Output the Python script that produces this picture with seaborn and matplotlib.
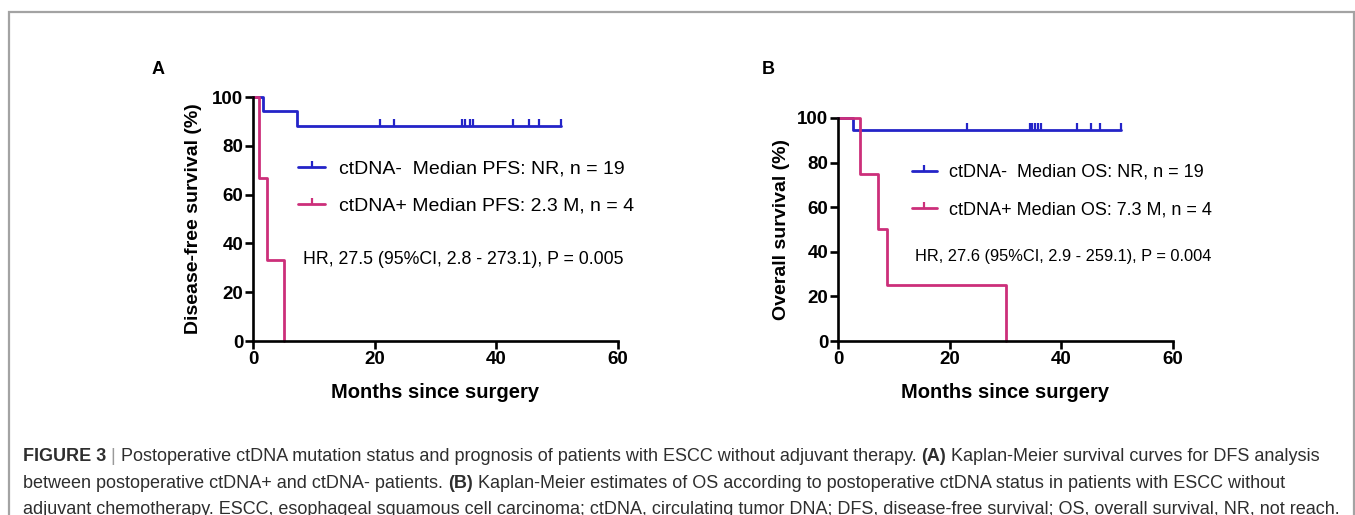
import matplotlib
matplotlib.use("Agg")
import matplotlib.pyplot as plt
import seaborn as sns
import pandas as pd
from matplotlib.lines import Line2D
from matplotlib.patches import Rectangle
from matplotlib.text import Annotation

# ---------------- data ----------------
a_neg_time = [0, 1.64, 7.2, 50.7]
a_neg_surv = [100, 94.1, 88.2, 88.2]
a_neg_cens_time = [20.8, 23.1, 34.3, 34.8, 35.6, 36.2, 42.7, 45.3, 47.0, 50.7]
a_pos_time = [0, 1.0, 2.25, 5.15]
a_pos_surv = [100, 66.7, 33.3, 0]

b_neg_time = [0, 2.7, 50.7]
b_neg_surv = [100, 94.4, 94.4]
b_neg_cens_time = [23.1, 34.4, 34.8, 35.2, 35.8, 36.3, 42.8, 45.4, 47.0, 50.7]
b_pos_time = [0, 4.0, 7.2, 8.7, 30.0]
b_pos_surv = [100, 75, 50, 25, 0]

legend_a = ["ctDNA-  Median PFS: NR, n = 19", "ctDNA+ Median PFS: 2.3 M, n = 4"]
legend_b = ["ctDNA-  Median OS: NR, n = 19", "ctDNA+ Median OS: 7.3 M, n = 4"]
hr_a = "HR, 27.5 (95%CI, 2.8 - 273.1), P = 0.005"
hr_b = "HR, 27.6 (95%CI, 2.9 - 259.1), P = 0.004"
ylabel_a = "Disease-free survival (%)"
ylabel_b = "Overall survival (%)"
xlabel = "Months since surgery"
x_ticks = [0, 20, 40, 60]
y_ticks = [0, 20, 40, 60, 80, 100]

BLUE = "#2424c8"
MAG = "#cc2f7a"

sns.set_theme(style="ticks")
plt.rcParams["font.family"] = ["Liberation Sans", "DejaVu Sans"]
plt.rcParams["text.color"] = "black"
plt.rcParams["axes.labelcolor"] = "black"
plt.rcParams["xtick.color"] = "black"
plt.rcParams["ytick.color"] = "black"

W, H = 1355, 515
fig = plt.figure(figsize=(W / 100, H / 100), dpi=100)


def fx(px):
    return px / W


def fy(py):
    return 1 - py / H


ax_a = fig.add_axes([fx(253), fy(341), fx(618) - fx(253), fy(97) - fy(341)])
ax_b = fig.add_axes([fx(838), fy(341), fx(1173) - fx(838), fy(118) - fy(341)])


def km_panel(ax, neg_t, neg_s, cens_t, pos_t, pos_s, ylab, ylabpad):
    df_neg = pd.DataFrame({"t": neg_t, "s": neg_s})
    df_pos = pd.DataFrame({"t": pos_t, "s": pos_s})
    sns.lineplot(data=df_neg, x="t", y="s", drawstyle="steps-post", color=BLUE,
                 lw=2.0, estimator=None, errorbar=None, ax=ax, clip_on=False, zorder=3)
    sns.lineplot(data=df_pos, x="t", y="s", drawstyle="steps-post", color=MAG,
                 lw=2.0, estimator=None, errorbar=None, ax=ax, clip_on=False, zorder=3)
    lvl = []
    for c in cens_t:
        v = neg_s[0]
        for t, s in zip(neg_t, neg_s):
            if t <= c:
                v = s
        lvl.append(v)
    sns.scatterplot(x=cens_t, y=lvl, marker=2, s=22, color=BLUE, linewidth=1.6,
                    ax=ax, clip_on=False, zorder=4)
    ax.set_xlim(0, 60)
    ax.set_ylim(0, 100)
    ax.set_xticks(x_ticks)
    ax.set_yticks(y_ticks)
    for sp in ["top", "right"]:
        ax.spines[sp].set_visible(False)
    for sp in ["left", "bottom"]:
        ax.spines[sp].set_linewidth(1.9)
        ax.spines[sp].set_color("black")
        ax.spines[sp].set_zorder(5)
    ax.tick_params(axis="both", direction="out", length=5.5, width=1.9, colors="black",
                   labelsize=13.5, pad=1.5)
    for lab in ax.get_xticklabels() + ax.get_yticklabels():
        lab.set_fontweight("bold")
    ax.set_ylabel(ylab, fontsize=14, fontweight="bold", labelpad=ylabpad)
    ax.set_xlabel(xlabel, fontsize=14.5, fontweight="bold", labelpad=11)
    ax.set_facecolor("none")
    handles = [Line2D([], [], color=BLUE, lw=2.0, marker=2, markersize=4.5, mew=1.6),
               Line2D([], [], color=MAG, lw=2.0, marker=2, markersize=4.5, mew=1.6)]
    return handles


h_a = km_panel(ax_a, a_neg_time, a_neg_surv, a_neg_cens_time, a_pos_time, a_pos_surv,
               ylabel_a, 7)
h_b = km_panel(ax_b, b_neg_time, b_neg_surv, b_neg_cens_time, b_pos_time, b_pos_surv,
               ylabel_b, 5)

fig.legend(h_a, legend_a, loc="center left", bbox_to_anchor=(fx(298), fy(187.5)),
           bbox_transform=fig.transFigure, frameon=False, fontsize=14,
           handlelength=1.39, handletextpad=0.72, labelspacing=1.0,
           borderpad=0, borderaxespad=0)
fig.legend(h_b, legend_b, loc="center left", bbox_to_anchor=(fx(911.5), fy(191)),
           bbox_transform=fig.transFigure, frameon=False, fontsize=13,
           handlelength=1.39, handletextpad=0.68, labelspacing=1.12,
           borderpad=0, borderaxespad=0)

fig.text(fx(303), fy(259), hr_a, fontsize=12.8, va="center", ha="left")
fig.text(fx(915), fy(257), hr_b, fontsize=11.8, va="center", ha="left")

fig.text(fx(152), fy(69), "A", fontsize=13, fontweight="bold", va="center", ha="left")
fig.text(fx(762), fy(69), "B", fontsize=13, fontweight="bold", va="center", ha="left")

# frame
fig.add_artist(Rectangle((fx(9), -0.2), fx(1354) - fx(9), fy(12) + 0.2,
                         transform=fig.transFigure, fill=False, edgecolor="#a3a3a3",
                         lw=1.6))

# caption
CAP = "#2e2e2e"
CAPSIZE = 12.95
cap_lines = [
    [("FIGURE 3", "bold", CAP), (" | ", "normal", "#9a9a9a"),
     ("Postoperative ctDNA mutation status and prognosis of patients with ESCC without adjuvant therapy. ", "normal", CAP),
     ("(A)", "bold", CAP), (" Kaplan-Meier survival curves for DFS analysis", "normal", CAP)],
    [("between postoperative ctDNA+ and ctDNA- patients. ", "normal", CAP), ("(B)", "bold", CAP),
     (" Kaplan-Meier estimates of OS according to postoperative ctDNA status in patients with ESCC without", "normal", CAP)],
    [("adjuvant chemotherapy. ESCC, esophageal squamous cell carcinoma; ctDNA, circulating tumor DNA; DFS, disease-free survival; OS, overall survival, NR, not reach.", "normal", CAP)],
]
baselines = [461, 487.5, 513.5]
for parts, yb in zip(cap_lines, baselines):
    s, w, c = parts[0]
    prev = fig.text(fx(23), fy(yb), s, fontsize=CAPSIZE, fontweight=w, color=c,
                    va="baseline", ha="left")
    for s, w, c in parts[1:]:
        ann = Annotation(s, xy=(1, 0), xycoords=prev, va="bottom", ha="left",
                         fontsize=CAPSIZE, fontweight=w, color=c, annotation_clip=False)
        fig.add_artist(ann)
        prev = ann

fig.savefig("out.png", dpi=100)
